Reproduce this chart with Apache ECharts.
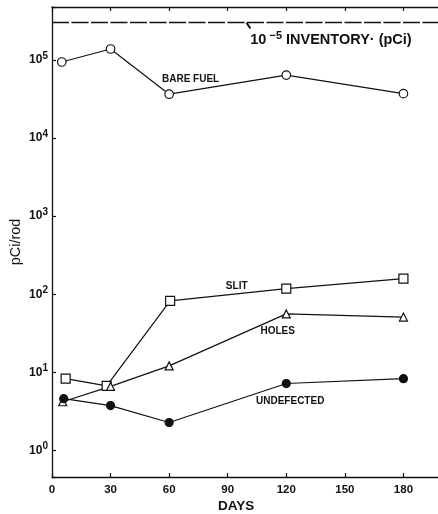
<!DOCTYPE html>
<html><head><meta charset="utf-8">
<script src="https://cdn.jsdelivr.net/npm/echarts@6/dist/echarts.min.js"></script>
<style>html,body{margin:0;padding:0;background:#fff}#c{width:438px;height:514px}</style>
</head><body><div id="c"></div>
<script>
var xTicks = [0, 30, 60, 90, 120, 150, 180];
var inventory = 3.0e5;
var bareFuel = [[5, 9.4e4], [30, 1.38e5], [60, 3.64e4], [120, 6.4e4], [180, 3.7e4]];
var slit = [[7, 8.3], [28, 6.7], [60.5, 82], [120, 118], [180, 158]];
var holes = [[5.5, 4.2], [30, 6.6], [60, 12.1], [120, 56], [180, 51]];
var undefected = [[6, 4.6], [30, 3.75], [60, 2.28], [120, 7.2], [180, 8.3]];

var FONT = 'Liberation Sans';
var chart = echarts.init(document.getElementById('c'), null, {renderer: 'canvas'});
function lineSeries(name, data, symbol, size, fill, extra) {
  var s = {
    name: name, type: 'line', data: data, symbol: symbol, symbolSize: size,
    showAllSymbol: true, z: 3,
    lineStyle: {color: '#111', width: 1.2},
    itemStyle: {color: fill, borderColor: '#111', borderWidth: 1.2},
    emphasis: {disabled: true}, animation: false
  };
  if (extra) for (var k in extra) s[k] = extra[k];
  return s;
}
var hidden = {color: 'rgba(0,0,0,0)', borderWidth: 0};
function annot(text, coord, size) {
  return {coord: coord, symbol: 'rect', symbolSize: 1, itemStyle: hidden,
    label: {show: true, position: 'inside', formatter: text, color: '#111',
      fontFamily: FONT, fontWeight: 'bold', fontSize: size || 10}};
}
var option = {
  backgroundColor: '#fff',
  animation: false,
  grid: {left: 52, top: 7, width: 410, height: 470, containLabel: false, outerBoundsMode: 'none'},
  xAxis: [{
    type: 'value', min: 0, max: 210, interval: 30, position: 'bottom',
    axisLine: {show: true, lineStyle: {color: '#111', width: 1.3}},
    axisTick: {show: true, inside: true, length: 4, lineStyle: {color: '#111', width: 1.2}},
    splitLine: {show: false},
    axisLabel: {color: '#111', fontFamily: FONT, fontWeight: 'bold', fontSize: 11.5, margin: 7,
      formatter: function (v) { return xTicks.indexOf(v) >= 0 ? String(v) : ''; }}
  }, {
    type: 'value', min: 0, max: 210, interval: 30, position: 'top',
    axisLine: {show: true, lineStyle: {color: '#111', width: 1.3}},
    axisTick: {show: true, inside: true, length: 4, lineStyle: {color: '#111', width: 1.2}},
    splitLine: {show: false}, axisLabel: {show: false}
  }],
  yAxis: {
    type: 'log', logBase: 10, min: 0.457, max: 4.76e5,
    name: 'pCi/rod', nameLocation: 'middle', nameGap: 29, nameRotate: 90, nameMoveOverlap: false,
    nameTextStyle: {color: '#111', fontFamily: FONT, fontSize: 14.5},
    axisLine: {show: true, lineStyle: {color: '#111', width: 1.3}},
    axisTick: {show: true, inside: true, length: 4, lineStyle: {color: '#111', width: 1.2}},
    splitLine: {show: false},
    minorTick: {show: false},
    axisLabel: {
      margin: 4,
      formatter: function (v) {
        var e = Math.log(v) / Math.LN10;
        var r = Math.round(e);
        if (Math.abs(e - r) > 1e-6 || r < 0 || r > 5) return '';
        return '{a|10}{b|' + r + '}';
      },
      rich: {
        a: {color: '#111', fontFamily: FONT, fontSize: 12, fontWeight: 'bold'},
        b: {color: '#111', fontFamily: FONT, fontSize: 10, fontWeight: 'bold', padding: [0, 0, 8, 0]}
      }
    }
  },
  graphic: [{
    type: 'text', left: 218, top: 499,
    style: {text: 'DAYS', fill: '#111', font: 'bold 13.5px "Liberation Sans"'}
  }],
  series: [
    lineSeries('BARE FUEL', bareFuel, 'circle', 8.5, '#fff', {
      markPoint: {animation: false, data: [annot('BARE FUEL', [71, 5.66e4])]},
      markLine: {
        silent: true, animation: false, symbol: 'none',
        data: [
          [{coord: [0, inventory]}, {coord: [210, inventory]}],
          [{coord: [99.6, inventory], lineStyle: {type: 'solid', width: 2}}, {coord: [101.6, 2.52e5]}]
        ],
        lineStyle: {color: '#111', width: 1.4, type: [17, 2.5]},
        label: {show: false}
      }
    }),
    lineSeries('SLIT', slit, 'rect', 9, '#fff', {
      markPoint: {animation: false, data: [annot('SLIT', [94.6, 128])]}
    }),
    lineSeries('HOLES', holes, 'triangle', 8, '#fff', {
      markPoint: {animation: false, data: [annot('HOLES', [115.6, 34])]}
    }),
    lineSeries('UNDEFECTED', undefected, 'circle', 8, '#111', {
      markPoint: {animation: false, data: [
        annot('UNDEFECTED', [122, 4.32]),
        {coord: [101.3, 1.79e5], symbol: 'rect', symbolSize: 1, itemStyle: hidden,
          label: {show: true, position: 'right', distance: 0,
            formatter: '{a|10}{b| \u22125}{a| INVENTORY\u00b7 (pCi)}',
            rich: {
              a: {color: '#111', fontFamily: FONT, fontSize: 14.5, fontWeight: 'bold'},
              b: {color: '#111', fontFamily: FONT, fontSize: 11, fontWeight: 'bold', padding: [0, 0, 9, 0]}
            }}}
      ]}
    })
  ]
};
chart.setOption(option);
</script></body></html>
